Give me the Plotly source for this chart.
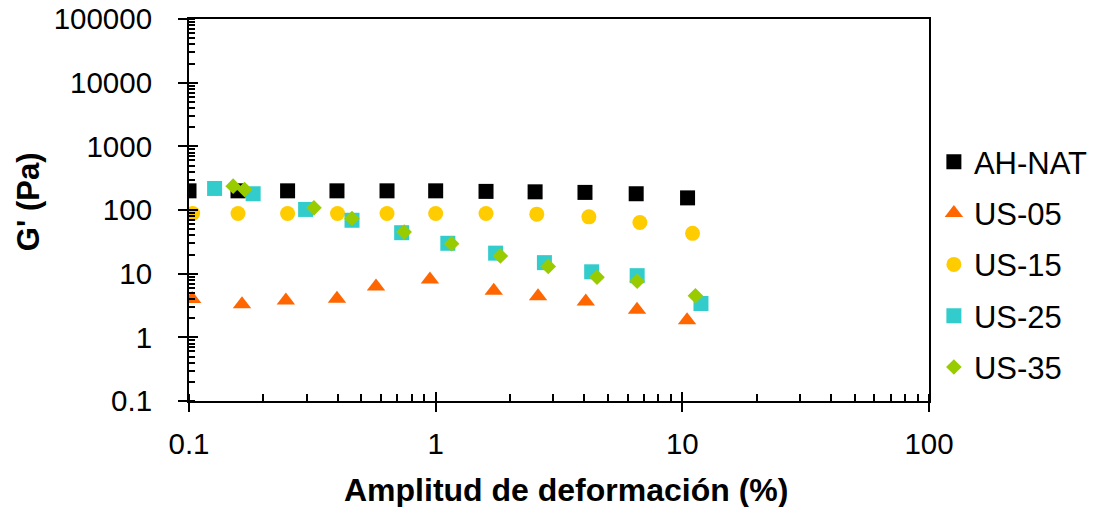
import plotly.graph_objects as go

# ---- data ----
x_ahnat = [0.1, 0.158, 0.251, 0.398, 0.635, 1.0, 1.6, 2.53, 4.03, 6.5, 10.5]
y_ahnat = [200, 200, 200, 200, 200, 200, 196, 193, 189, 180, 155]

x_us05 = [0.103, 0.164, 0.247, 0.398, 0.573, 0.948, 1.72, 2.6, 4.06, 6.55, 10.45]
y_us05 = [4.0, 3.3, 3.8, 4.05, 6.3, 8.1, 5.4, 4.4, 3.65, 2.7, 1.85]

x_us15 = [0.1035, 0.158, 0.251, 0.40, 0.635, 1.0, 1.6, 2.57, 4.18, 6.73, 11.0]
y_us15 = [88, 88, 88, 88, 88, 88, 88, 86, 78, 63.5, 43]

x_us25 = [0.127, 0.182, 0.297, 0.458, 0.728, 1.12, 1.75, 2.76, 4.29, 6.56, 11.9]
y_us25 = [218, 180, 102, 69, 44, 30, 21, 14.9, 10.7, 9.3, 3.4]

x_us35 = [0.151, 0.168, 0.321, 0.458, 0.745, 1.16, 1.83, 2.86, 4.51, 6.56, 11.3]
y_us35 = [237, 210, 108, 73.5, 45, 29.6, 18.9, 13, 8.8, 7.6, 4.5]

x_tickvals = [0.1, 1, 10, 100]
x_ticktext = ["0.1", "1", "10", "100"]
y_tickvals = [0.1, 1, 10, 100, 1000, 10000, 100000]
y_ticktext = ["0.1", "1", "10", "100", "1000", "10000", "100000"]

x_title = "Amplitud de deformación (%)"
y_title = "G' (Pa)"

FONT = "Liberation Sans, Arial, sans-serif"

series = [
    ("AH-NAT", x_ahnat, y_ahnat, "square", "#000000", 15),
    ("US-05", x_us05, y_us05, "triangle-up", "#FF6600", 16),
    ("US-15", x_us15, y_us15, "circle", "#FFCC00", 15),
    ("US-25", x_us25, y_us25, "square", "#33CCCC", 15),
    ("US-35", x_us35, y_us35, "diamond", "#99CC00", 12),
]

fig = go.Figure()
for i, (name, xs, ys, sym, col, sz) in enumerate(series):
    fig.add_trace(go.Scatter(
        x=xs, y=ys, mode="markers", name=name, legendgroup=f"g{i}",
        marker=dict(symbol=sym, color=col, size=sz, line=dict(width=0)),
    ))

# invisible trace to host the overlay axes (inner half of crossing major ticks)
fig.add_trace(go.Scatter(x=[1], y=[1], xaxis="x2", yaxis="y2", mode="markers",
                         marker=dict(opacity=0), showlegend=False, hoverinfo="skip"))

fig.update_layout(
    width=1096, height=507,
    margin=dict(l=189, r=167, t=19, b=106, autoexpand=False),
    paper_bgcolor="white", plot_bgcolor="white",
    font=dict(family=FONT, color="black", size=29.5),
    showlegend=True,
    legend=dict(
        x=1.0066, xanchor="left", y=0.357, yanchor="middle",
        font=dict(family=FONT, size=31, color="black"),
        tracegroupgap=8, bgcolor="rgba(0,0,0,0)",
    ),
    xaxis=dict(
        type="log", range=[-1, 2],
        tickmode="array", tickvals=x_tickvals, ticktext=x_ticktext,
        ticks="outside", ticklen=9, tickwidth=2, tickcolor="black",
        showline=True, linewidth=2, linecolor="black", mirror=True,
        showgrid=False, zeroline=False,
        tickfont=dict(size=29.5), ticklabelstandoff=7,
        minor=dict(ticks="inside", ticklen=7, tickwidth=1.5, tickcolor="black",
                   dtick="D1", showgrid=False),
    ),
    yaxis=dict(
        type="log", range=[-1, 5],
        tickmode="array", tickvals=y_tickvals, ticktext=y_ticktext,
        ticks="outside", ticklen=9, tickwidth=2, tickcolor="black",
        showline=True, linewidth=2, linecolor="black", mirror=True,
        showgrid=False, zeroline=False,
        tickfont=dict(size=29.5), ticklabelstandoff=20,
        minor=dict(ticks="inside", ticklen=6, tickwidth=1.5, tickcolor="black",
                   dtick="D1", showgrid=False),
    ),
    xaxis2=dict(
        type="log", range=[-1, 2], overlaying="x", anchor="y", side="bottom",
        tickmode="array", tickvals=x_tickvals, showticklabels=False,
        ticks="inside", ticklen=9, tickwidth=2, tickcolor="black",
        showline=False, showgrid=False, zeroline=False,
    ),
    yaxis2=dict(
        type="log", range=[-1, 5], overlaying="y", anchor="x", side="left",
        tickmode="array", tickvals=y_tickvals, showticklabels=False,
        ticks="inside", ticklen=9, tickwidth=2, tickcolor="black",
        showline=False, showgrid=False, zeroline=False,
    ),
    annotations=[
        dict(text=f"<b>{x_title}</b>", xref="paper", yref="paper",
             x=0.509, y=-0.233, xanchor="center", yanchor="middle",
             showarrow=False, font=dict(size=32, color="black")),
        dict(text=f"<b>{y_title}</b>", xref="paper", yref="paper",
             x=-0.216, y=0.521, xanchor="center", yanchor="middle",
             textangle=-90, showarrow=False, font=dict(size=31, color="black")),
    ],
)

fig.write_html("out.html")
